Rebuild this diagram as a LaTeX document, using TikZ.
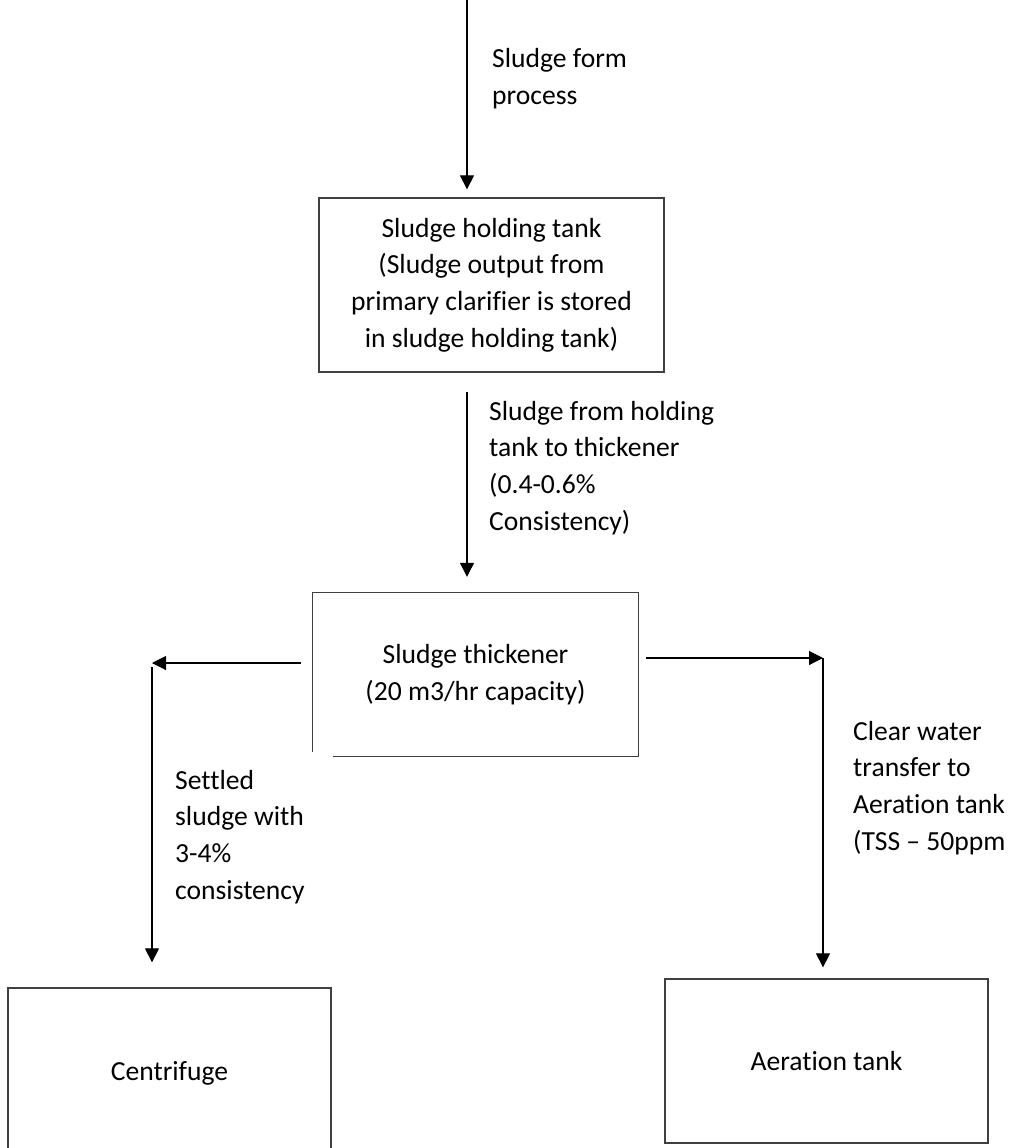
\documentclass[tikz,border=0pt]{standalone}
\usepackage{fontspec}
\setmainfont{Carlito}[Ligatures=NoCommon]
\usetikzlibrary{arrows.meta}
\begin{document}
\begin{tikzpicture}[x=1pt,y=-1pt,
  every node/.style={font=\fontsize{27.6pt}{36.8pt}\selectfont},
  boxnode/.style={draw=black!75,line width=1.3pt,inner sep=0pt,align=center},
  lbl/.style={anchor=west,align=left,inner sep=0pt},
  arr/.style={line width=1.1pt,-{Triangle[length=14pt,width=14pt]}}]
\clip (0,0) rectangle (1010,1148);
\useasboundingbox (0,0) rectangle (1010,1148);
% boxes
\node[boxnode,minimum width=345pt,minimum height=174pt] (hold) at (491.5,285)
  {Sludge holding tank\\(Sludge output from\\primary clarifier is stored\\in sludge holding tank)};
\node[inner sep=0pt,minimum width=325pt,minimum height=163pt,align=center] (thick) at (475.5,674.5)
  {Sludge thickener\\(20 m3/hr capacity)};
\draw[draw=black!75,line width=1.3pt] ([yshift=4pt]thick.south west) -- (thick.north west)
  -- (thick.north east) -- (thick.south east) -- ([xshift=20pt]thick.south west);
\node[boxnode,minimum width=323pt,minimum height=170pt] (cent) at (169.5,1073) {Centrifuge};
\node[boxnode,minimum width=323pt,minimum height=164pt] (aer) at (826.5,1061) {Aeration tank};
% coordinates
\coordinate (top) at (467,0);
\coordinate (c2) at (467,392);
\coordinate (L) at (152,663);
\coordinate (L2) at (152,667);
\coordinate (R) at (823,658);
% connectors
\draw[arr,shorten >=8pt] (top) -- (top |- hold.north);
\draw[arr,shorten >=16pt] (c2) -- (c2 |- thick.north);
\draw[arr,shorten <=12pt] (thick.west |- L) -- (L);
\draw[arr,shorten >=25pt] (L2) -- (L2 |- cent.north);
\draw[arr,shorten <=8pt] (thick.east |- R) -- (R);
\draw[arr,shorten >=11pt] (R) -- (R |- aer.north);
% labels
\node[lbl] (l1) at (492,79) {Sludge form\\process};
\node[lbl] (l2) at (489,468) {Sludge from holding\\tank to thickener\\(0.4-0.6\%\\Consistency)};
\node[lbl] (l3) at (175,837) {Settled\\sludge with\\3-4\%\\consistency};
\node[lbl] (l4) at (853,788) {Clear water\\transfer to\\Aeration tank\\(TSS – 50ppm};
\end{tikzpicture}
\end{document}
